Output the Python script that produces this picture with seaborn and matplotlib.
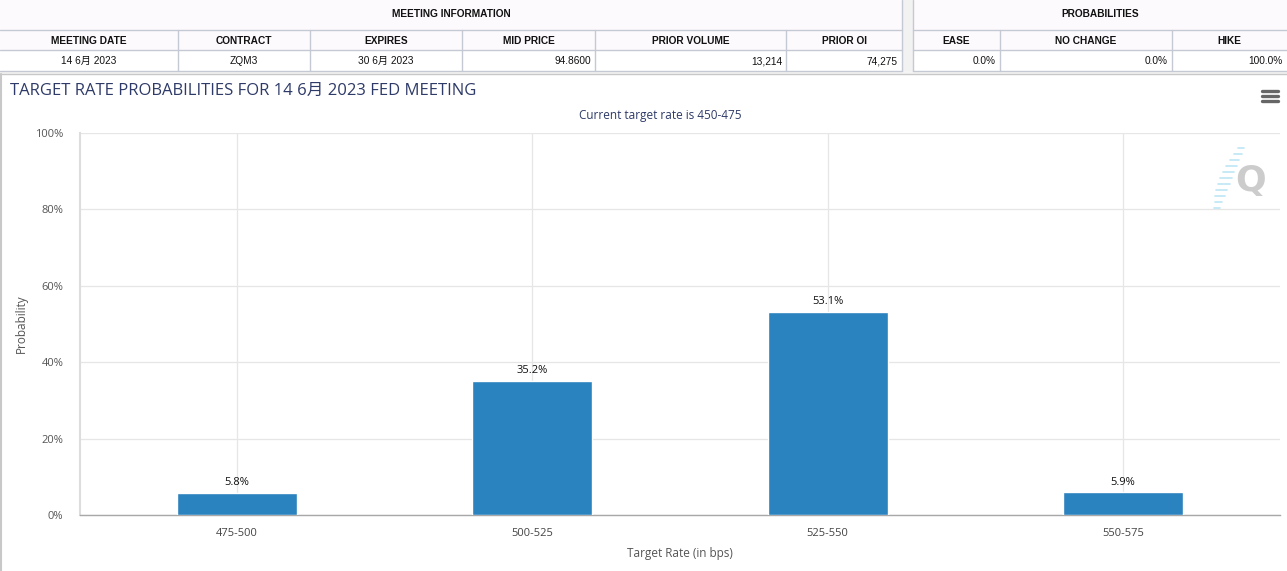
import numpy as np
import pandas as pd
import matplotlib
matplotlib.use("Agg")
import matplotlib.pyplot as plt
import seaborn as sns
from matplotlib.patches import Rectangle
from matplotlib.lines import Line2D

# ── Data ──────────────────────────────────────────────────
rate_bins = ['475-500', '500-525', '525-550', '550-575']
probabilities = [5.8, 35.2, 53.1, 5.9]

group_titles = ['MEETING INFORMATION', 'PROBABILITIES']
table_headers = ['MEETING DATE', 'CONTRACT', 'EXPIRES', 'MID PRICE', 'PRIOR VOLUME',
                 'PRIOR OI', 'EASE', 'NO CHANGE', 'HIKE']
table_values = ['14 6月 2023', 'ZQM3', '30 6月 2023', '94.8600', '13,214',
                '74,275', '0.0%', '0.0%', '100.0%']

chart_title = 'TARGET RATE PROBABILITIES FOR 14 6月 2023 FED MEETING'
chart_subtitle = 'Current target rate is 450-475'

# ── Figure setup ──────────────────────────────────────────
W, H = 1287, 571
sns.set_style('whitegrid')
plt.rcParams['font.family'] = ['Open Sans', 'Noto Sans CJK SC', 'DejaVu Sans']
tbl_font = ['Liberation Sans', 'Noto Sans CJK SC', 'DejaVu Sans']

fig = plt.figure(figsize=(W / 100, H / 100), dpi=100)
fig.patch.set_facecolor('white')

def fx(px):
    return px / W

def fy(py):
    return 1 - py / H

def hline(x0, x1, y, color='#c5c9d3', lw=1.0):
    fig.add_artist(Line2D([fx(x0), fx(x1)], [fy(y), fy(y)], color=color, lw=lw,
                          transform=fig.transFigure))

def vline(x, y0, y1, color='#c5c9d3', lw=1.0):
    fig.add_artist(Line2D([fx(x), fx(x)], [fy(y0), fy(y1)], color=color, lw=lw,
                          transform=fig.transFigure))

def rect(x0, y0, x1, y1, color):
    fig.add_artist(Rectangle((fx(x0), fy(y1)), fx(x1) - fx(x0), fy(y0) - fy(y1),
                             facecolor=color, edgecolor='none', transform=fig.transFigure, zorder=0))

# ── Top table ─────────────────────────────────────────────
rect(0, 0, 902, 50, '#fdfafd')
rect(913, 0, W, 50, '#fdfafd')
rect(902, 0, 913, 72, '#f2f2f2')
rect(0, 71, W, 74, '#f4f4f4')

cols = [(0, 178), (178, 310), (310, 462), (462, 595), (595, 786), (786, 902),
        (913, 1000), (1000, 1172), (1172, W)]

fig.text(fx(451), fy(14), group_titles[0], ha='center', va='center',
         fontsize=7.3, fontweight='bold', family=tbl_font, color='#111')
fig.text(fx(1100), fy(14), group_titles[1], ha='center', va='center',
         fontsize=7.3, fontweight='bold', family=tbl_font, color='#111')

for i, ((a, b), head, val) in enumerate(zip(cols, table_headers, table_values)):
    fig.text(fx((a + b) / 2), fy(40.5), head, ha='center', va='center',
             fontsize=7.3, fontweight='bold', family=tbl_font, color='#111')
    if i < 3:
        fig.text(fx((a + b) / 2), fy(61), val, ha='center', va='center',
                 fontsize=7.3, family=tbl_font, color='#111')
    else:
        fig.text(fx(b - 4), fy(61), val, ha='right', va='center',
                 fontsize=7.3, family=tbl_font, color='#111')

for y in (30, 50, 71):
    hline(0, 902, y)
    hline(913, W, y)
for (a, b) in cols:
    if a not in (0, 913):
        vline(a, 30, 71)
vline(902, 0, 71)
vline(913, 0, 71)
# chart frame
hline(0, W, 74, color='#c8c8c8', lw=1.0)
vline(0.7, 74, H, color='#c8c8c8', lw=1.5)

# ── Bar chart ─────────────────────────────────────────────
df = pd.DataFrame({'rate': rate_bins, 'prob': probabilities})

ax = fig.add_axes([fx(80), fy(515), fx(1280) - fx(80), fy(133) - fy(515)])
sns.barplot(data=df, x='rate', y='prob', color='#2a82be', width=0.406,
            saturation=1, ax=ax, zorder=3)

ax.set_ylim(0, 100)
ax.set_xlim(-0.532, 3.532)
ax.set_yticks(np.arange(0, 101, 20))
ax.set_yticklabels([f'{v}%' for v in range(0, 101, 20)])
ax.grid(True, color='#e6e6e6', lw=0.9)
ax.set_axisbelow(True)
for s in ('top', 'right'):
    ax.spines[s].set_visible(False)
ax.spines['left'].set_color('#dddddd')
ax.spines['left'].set_linewidth(1.5)
ax.spines['bottom'].set_color('#a8a8a8')
ax.spines['bottom'].set_linewidth(1.0)
ax.tick_params(axis='y', length=8, color='#dddddd', labelsize=8, labelcolor='#555555', pad=4)
ax.tick_params(axis='x', length=0, labelsize=8, labelcolor='#444444', pad=9)

for i, v in enumerate(probabilities):
    ax.annotate(f'{v}%', (i, v), xytext=(0, 3.5), textcoords='offset points',
                ha='center', va='bottom', fontsize=8, color='#111111')

ax.set_xlabel('Target Rate (in bps)', fontsize=8.5, color='#555555', labelpad=6)
ax.set_ylabel('Probability', fontsize=8.5, color='#555555', labelpad=5)

fig.text(fx(10), fy(91), chart_title, ha='left', va='center',
         fontsize=12, color='#2e3a68')
fig.text(fx(660), fy(116), chart_subtitle, ha='center', va='center',
         fontsize=8.5, color='#2e3a68')

# menu icon
for y in (91, 96, 101):
    hline(1262, 1278, y, color='#666666', lw=2.4)

# watermark
fig.text(fx(1251), fy(181), 'Q', ha='center', va='center', fontsize=26,
         fontweight='bold', color='#cccccc', family='DejaVu Sans')
for k, y in enumerate(range(148, 212, 6)):
    off = k * 2.4
    ln = 6 + 6 * np.sin(np.pi * k / 10)
    hline(1244 - off - ln, 1244 - off, y, color='#bde6f6', lw=1.2)

fig.savefig('out.png', dpi=100)
